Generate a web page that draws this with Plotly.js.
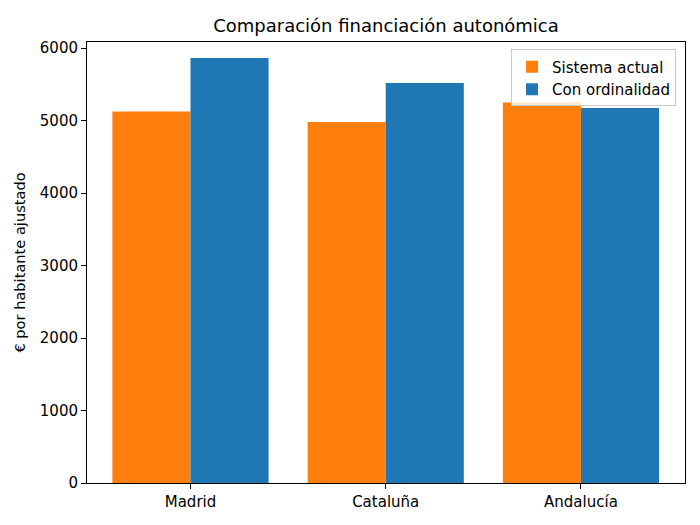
<!DOCTYPE html>
<html>
<head>
<meta charset="utf-8">
<script src="https://cdn.plot.ly/plotly-3.0.1.min.js"></script>
<style>
  html, body { margin: 0; padding: 0; background: #fff; }
  #chart { width: 700px; height: 525px; }
</style>
</head>
<body>
<div id="chart"></div>
<script>
// regiones y valores (€ por habitante ajustado)
const regiones = ["Madrid", "Cataluña", "Andalucía"];
const sistemaActual = [5124, 4978, 5249];
const conOrdinalidad = [5862, 5517, 5171];
const yTicks = [0, 1000, 2000, 3000, 4000, 5000, 6000];

const pos = regiones.map((_, i) => i);

const traces = [
    {
        x: pos, y: sistemaActual,
        name: "Sistema actual", type: "bar",
        width: 0.4, offset: -0.4,
        marker: { color: "#ff7f0e", line: { width: 0 } },
        hoverinfo: "y"
    },
    {
        x: pos, y: conOrdinalidad,
        name: "Con ordinalidad", type: "bar",
        width: 0.4, offset: 0,
        marker: { color: "#1f77b4", line: { width: 0 } },
        hoverinfo: "y"
    }
];

const axisFont = { family: "DejaVu Sans", size: 15, color: "#000" };

const layout = {
    width: 700, height: 525,
    barmode: "overlay",
    font: axisFont,
    paper_bgcolor: "#fff", plot_bgcolor: "#fff",
    margin: { l: 87, r: 15, t: 42, b: 42 },
    title: {
        text: "Comparación financiación autonómica",
        font: { family: "DejaVu Sans", size: 18, color: "#000" },
        x: 0.5, xref: "paper", xanchor: "center",
        y: 1, yref: "container", yanchor: "top", pad: { t: 19 }
    },
    xaxis: {
        range: [-0.53, 2.533],
        tickvals: pos, ticktext: regiones,
        showgrid: false, zeroline: false,
        showline: true, mirror: true, linecolor: "#000", linewidth: 1,
        ticks: "outside", ticklen: 5, tickcolor: "#000", tickwidth: 1,
        tickfont: axisFont
    },
    yaxis: {
        range: [0, 6083],
        tickvals: yTicks,
        showgrid: false, zeroline: false,
        showline: true, mirror: true, linecolor: "#000", linewidth: 1,
        ticks: "outside", ticklen: 5, tickcolor: "#000", tickwidth: 1,
        tickfont: axisFont,
        title: { text: "€ por habitante ajustado", font: { family: "DejaVu Sans", size: 14.6, color: "#000" }, standoff: 10 }
    },
    legend: {
        x: 0.985, xanchor: "right", y: 0.983, yanchor: "top",
        bgcolor: "rgba(255,255,255,0.8)", bordercolor: "#cccccc", borderwidth: 1,
        font: axisFont,
        traceorder: "normal"
    },
    showlegend: true
};

Plotly.newPlot("chart", traces, layout, { displayModeBar: false, staticPlot: true });
</script>
</body>
</html>
